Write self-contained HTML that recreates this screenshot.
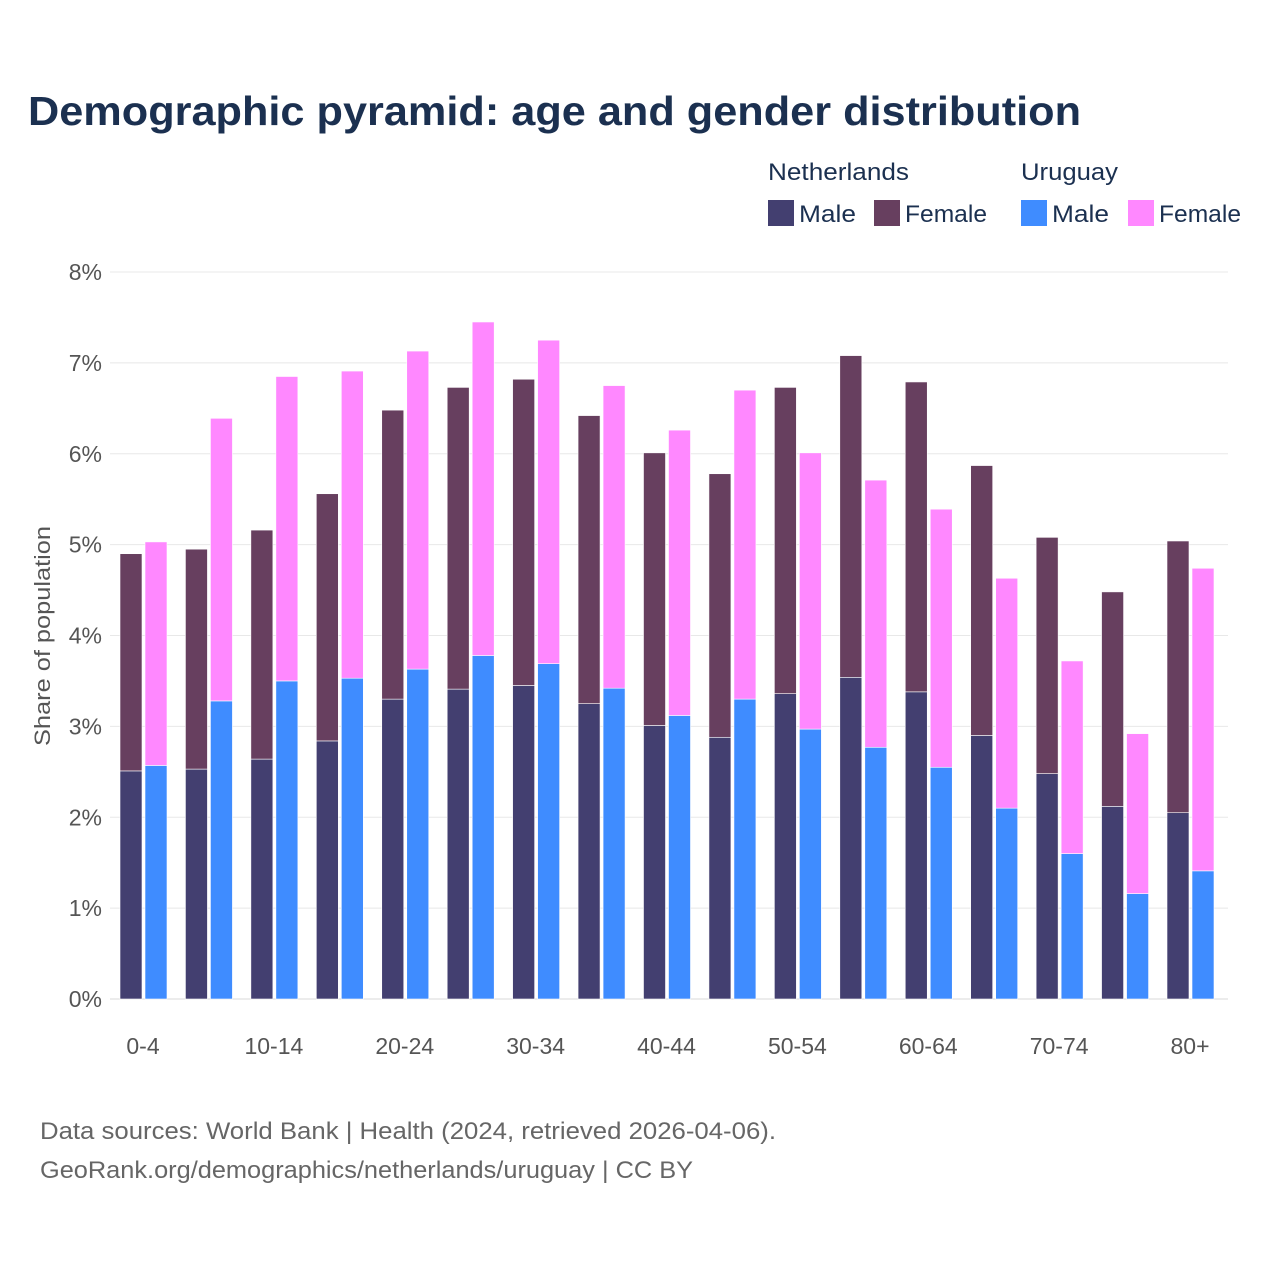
<!DOCTYPE html>
<html><head><meta charset="utf-8"><style>
body{margin:0;background:#fff;}
svg{display:block;font-family:"Liberation Sans",sans-serif;}
</style></head><body>
<svg id="chart" width="1280" height="1280" viewBox="0 0 1280 1280">
<rect width="1280" height="1280" fill="#fff"/>
<text x="28" y="125" font-size="41" font-weight="bold" fill="#1b3050" textLength="1053" lengthAdjust="spacingAndGlyphs">Demographic pyramid: age and gender distribution</text>
<g font-size="24" fill="#1b3050">
<text x="768" y="180" textLength="141" lengthAdjust="spacingAndGlyphs">Netherlands</text>
<text x="1021" y="180" textLength="97" lengthAdjust="spacingAndGlyphs">Uruguay</text>
<rect x="768" y="200" width="26" height="26" fill="#433f70"/>
<text x="799" y="222" textLength="57" lengthAdjust="spacingAndGlyphs">Male</text>
<rect x="874" y="200" width="26" height="26" fill="#673f5f"/>
<text x="905" y="222" textLength="82" lengthAdjust="spacingAndGlyphs">Female</text>
<rect x="1021" y="200" width="26" height="26" fill="#3f8cff"/>
<text x="1052" y="222" textLength="57" lengthAdjust="spacingAndGlyphs">Male</text>
<rect x="1128" y="200" width="26" height="26" fill="#ff88ff"/>
<text x="1159" y="222" textLength="82" lengthAdjust="spacingAndGlyphs">Female</text>
</g>
<g id="grid"></g>
<g id="bars"></g>
<g id="xlabels"></g>
<text transform="translate(50,636) rotate(-90)" text-anchor="middle" font-size="22" fill="#555" textLength="220" lengthAdjust="spacingAndGlyphs">Share of population</text>
<text x="40" y="1139" font-size="24" fill="#666" textLength="736" lengthAdjust="spacingAndGlyphs">Data sources: World Bank | Health (2024, retrieved 2026-04-06).</text>
<text x="40" y="1178" font-size="24" fill="#666" textLength="653" lengthAdjust="spacingAndGlyphs">GeoRank.org/demographics/netherlands/uruguay | CC BY</text>
</svg>
<script>
const categories=["0-4","5-9","10-14","15-19","20-24","25-29","30-34","35-39","40-44","45-49","50-54","55-59","60-64","65-69","70-74","75-79","80+"];
const nlMale=[2.51,2.53,2.64,2.84,3.30,3.41,3.45,3.25,3.01,2.88,3.36,3.54,3.38,2.90,2.48,2.12,2.05];
const nlFemale=[2.39,2.42,2.52,2.72,3.18,3.32,3.37,3.17,3.00,2.90,3.37,3.54,3.41,2.97,2.60,2.36,2.99];
const uyMale=[2.57,3.28,3.50,3.53,3.63,3.78,3.69,3.42,3.12,3.30,2.97,2.77,2.55,2.10,1.60,1.16,1.41];
const uyFemale=[2.46,3.11,3.35,3.38,3.50,3.67,3.56,3.33,3.14,3.40,3.04,2.94,2.84,2.53,2.12,1.76,3.33];
const yTicks=[0,1,2,3,4,5,6,7,8];
const yTickLabels=["0%","1%","2%","3%","4%","5%","6%","7%","8%"];
const xLabelShown=["0-4","10-14","20-24","30-34","40-44","50-54","60-64","70-74","80+"];

const NS="http://www.w3.org/2000/svg";
const y=v=>999-v*(727/8);
const x=i=>143+i*(1047/16);
function mk(tag,attrs,parent){const e=document.createElementNS(NS,tag);for(const k in attrs)e.setAttribute(k,attrs[k]);parent.appendChild(e);return e;}
const grid=document.getElementById('grid'),bars=document.getElementById('bars'),xl=document.getElementById('xlabels');
yTicks.forEach((t,i)=>{
  const l=mk('line',{x1:110,x2:1228,y1:y(t),y2:y(t),stroke:t===0?'#d8d8d8':'#e8e8e8','stroke-width':1},grid);
  
  
  const tx=mk('text',{x:102,y:y(t)+8,'text-anchor':'end','font-size':23,fill:'#555'},grid);
  tx.textContent=yTickLabels[i];
  
  
});
function bar(xp,v0,v1,fill,name){
  const r=mk('rect',{x:xp,y:y(v1),width:22,height:y(v0)-y(v1),fill:fill,stroke:'#fff','stroke-width':0.6},bars);
  
  
}
categories.forEach((c,i)=>{
  const cx=x(i);
  bar(cx-23,0,nlMale[i],'#433f70','bar-nl-male-'+c);
  bar(cx-23,nlMale[i],nlMale[i]+nlFemale[i],'#673f5f','bar-nl-female-'+c);
  bar(cx+2,0,uyMale[i],'#3f8cff','bar-uy-male-'+c);
  bar(cx+2,uyMale[i],uyMale[i]+uyFemale[i],'#ff88ff','bar-uy-female-'+c);
  if(xLabelShown.includes(c)){
    const t=mk('text',{x:cx,y:1054,'text-anchor':'middle','font-size':23,fill:'#555'},xl);
    t.textContent=c;
    
    
  }
});
</script>
</body></html>
